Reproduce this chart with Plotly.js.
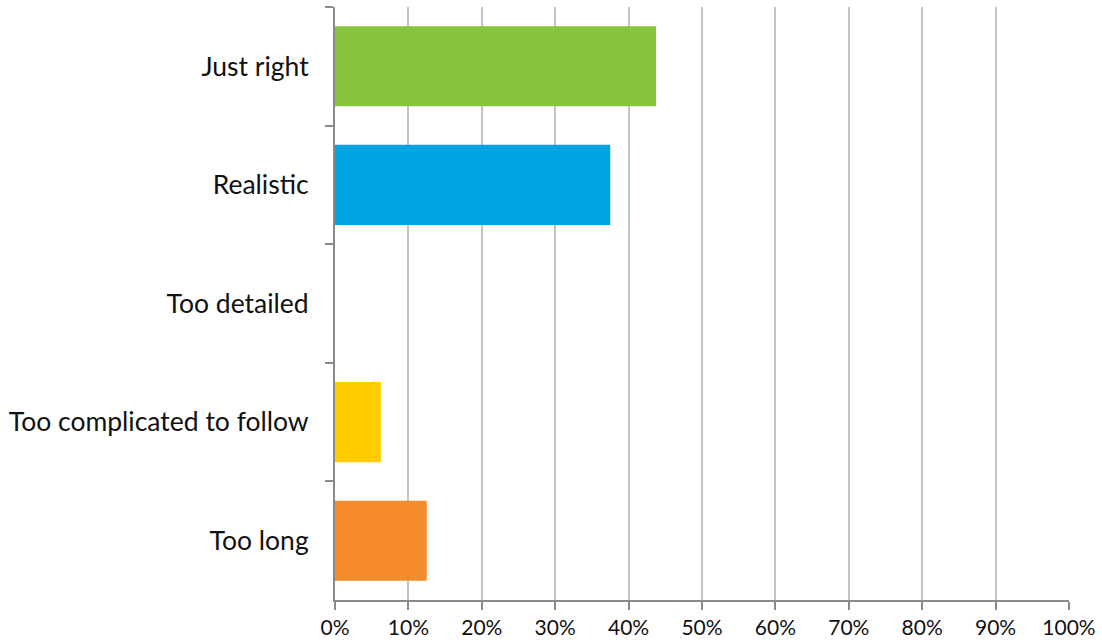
<!DOCTYPE html>
<html>
<head>
<meta charset="utf-8">
<script src="https://cdn.plot.ly/plotly-3.0.1.min.js"></script>
<style>
  html, body { margin: 0; padding: 0; background: #ffffff; }
  #chart { width: 1102px; height: 642px; }
</style>
</head>
<body>
<div id="chart"></div>
<script>
// Survey answers, top to bottom
const categories = ["Just right", "Realistic", "Too detailed", "Too complicated to follow", "Too long"];
const shares = [0.4375, 0.375, 0, 0.0625, 0.125];
const barColors = ["#86c440", "#00a4e4", "#e8453c", "#ffcc00", "#f58b2b"];
const tickValues = [0, 0.1, 0.2, 0.3, 0.4, 0.5, 0.6, 0.7, 0.8, 0.9, 1.0];
const tickLabels = ["0%", "10%", "20%", "30%", "40%", "50%", "60%", "70%", "80%", "90%", "100%"];

const trace = {
  type: "bar",
  orientation: "h",
  y: categories,
  x: shares,
  marker: { color: barColors, line: { width: 0 } },
  hoverinfo: "y+x"
};

const layout = {
  width: 1102,
  height: 642,
  margin: { l: 334.5, r: 33, t: 7, b: 42 },
  paper_bgcolor: "#ffffff",
  plot_bgcolor: "#ffffff",
  bargap: 0.325,
  showlegend: false,
  font: { family: "Lato, 'Open Sans', sans-serif", size: 22, color: "#111111" },
  xaxis: {
    range: [0, 1],
    tickvals: tickValues,
    ticktext: tickLabels,
    showgrid: true,
    gridcolor: "#c4c4c4",
    gridwidth: 2,
    zeroline: false,
    showline: true,
    linecolor: "#8a8a8a",
    linewidth: 2,
    ticks: "outside",
    ticklen: 8,
    tickwidth: 2,
    tickcolor: "#8a8a8a",
    tickfont: { size: 21, color: "#111111" },
    fixedrange: true
  },
  yaxis: {
    type: "category",
    autorange: "reversed",
    showgrid: false,
    zeroline: false,
    showline: true,
    linecolor: "#8a8a8a",
    linewidth: 2,
    ticks: "outside",
    tickson: "boundaries",
    ticklen: 8,
    tickwidth: 2,
    tickcolor: "#8a8a8a",
    ticklabelstandoff: 19,
    tickfont: { size: 26.5, color: "#111111" },
    fixedrange: true
  }
};

Plotly.newPlot("chart", [trace], layout, { displayModeBar: false, staticPlot: true });
</script>
</body>
</html>
